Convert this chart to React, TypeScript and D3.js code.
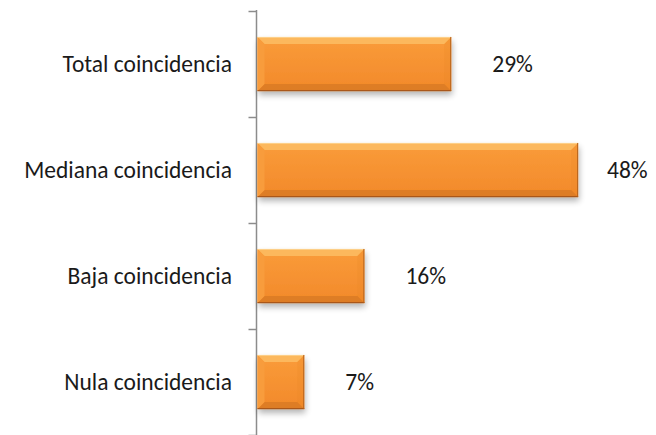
import { useEffect, useRef } from 'react';
import * as d3 from 'd3';

const categories = ['Total coincidencia', 'Mediana coincidencia', 'Baja coincidencia', 'Nula coincidencia'];
const values = [29, 48, 16, 7];
const valueLabels = ['29%', '48%', '16%', '7%'];

const W = 656;
const H = 435;

export default function App() {
  const ref = useRef<SVGSVGElement>(null);

  useEffect(() => {
    const svg = d3.select(ref.current);
    svg.selectAll('*').remove();

    const axisX = 256.5;
    const x = d3.scaleLinear().domain([0, 50]).range([axisX + 1, axisX + 1 + 334]);
    const y = d3.scaleBand().domain(categories).range([11, 435]).paddingInner(0.49).paddingOuter(0.245);
    const yTicks = d3.scaleBand().domain(categories).range([11, 435]);

    const defs = svg.append('defs');
    const grad = defs.append('linearGradient').attr('id', 'barGrad').attr('x1', 0).attr('y1', 0).attr('x2', 0).attr('y2', 1);
    grad.append('stop').attr('offset', '0%').attr('stop-color', '#FA9C3A');
    grad.append('stop').attr('offset', '100%').attr('stop-color', '#F2892A');
    const sh = defs.append('filter').attr('id', 'shadow').attr('x', '-10%').attr('y', '-20%').attr('width', '130%').attr('height', '160%');
    sh.append('feGaussianBlur').attr('in', 'SourceAlpha').attr('stdDeviation', 3).attr('result', 'b');
    sh.append('feOffset').attr('in', 'b').attr('dx', 1).attr('dy', 4).attr('result', 'o');
    sh.append('feComponentTransfer').attr('in', 'o').attr('result', 'o2')
      .append('feFuncA').attr('type', 'linear').attr('slope', 0.3);
    const m = sh.append('feMerge');
    m.append('feMergeNode').attr('in', 'o2');
    m.append('feMergeNode').attr('in', 'SourceGraphic');

    // axis line and ticks
    const axis = svg.append('g').attr('stroke', '#8C8C8C').attr('stroke-width', 1.5);
    axis.append('line').attr('x1', axisX).attr('x2', axisX).attr('y1', 10).attr('y2', 435);
    const bounds = categories.map(c => yTicks(c)!).concat([435]);
    axis.selectAll('line.tick').data(bounds).enter().append('line')
      .attr('class', 'tick')
      .attr('x1', axisX - 8).attr('x2', axisX)
      .attr('y1', d => Math.round(d) + 0.5).attr('y2', d => Math.round(d) + 0.5);

    const bev = 7;
    const bars = svg.append('g').selectAll('g').data(values).enter().append('g')
      .attr('transform', (d, i) => `translate(${x(0)},${y(categories[i])})`);
    const bh = y.bandwidth();

    bars.each(function (d) {
      const g = d3.select(this);
      const w = x(d) - x(0);
      g.append('rect').attr('width', w).attr('height', bh).attr('fill', 'url(#barGrad)').attr('filter', 'url(#shadow)');
      // bevel faces
      g.append('polygon').attr('points', `0,0 ${w},0 ${w - bev},${bev} ${bev},${bev}`).attr('fill', '#FCBB62').attr('opacity', 0.9);
      g.append('polygon').attr('points', `0,${bh} ${w},${bh} ${w - bev},${bh - bev} ${bev},${bh - bev}`).attr('fill', '#D97A24').attr('opacity', 0.85);
      g.append('polygon').attr('points', `0,0 ${bev},${bev} ${bev},${bh - bev} 0,${bh}`).attr('fill', '#F89C3C');
      g.append('polygon').attr('points', `${w},0 ${w - bev},${bev} ${w - bev},${bh - bev} ${w},${bh}`).attr('fill', '#E8842232');
      g.append('line').attr('x1', 0).attr('x2', w).attr('y1', 0.5).attr('y2', 0.5).attr('stroke', '#FDD08A').attr('stroke-width', 1);
      g.append('line').attr('x1', 0).attr('x2', w).attr('y1', bh - 0.5).attr('y2', bh - 0.5).attr('stroke', '#A9571A').attr('stroke-width', 1.2);
      g.append('line').attr('x1', w - 0.5).attr('x2', w - 0.5).attr('y1', 0).attr('y2', bh).attr('stroke', '#B4621D').attr('stroke-width', 1);
    });

    const font = 'Carlito, Calibri, Lato, sans-serif';
    svg.append('g').selectAll('text').data(categories).enter().append('text')
      .attr('x', 232).attr('y', d => y(d)! + bh / 2)
      .attr('text-anchor', 'end').attr('dominant-baseline', 'central')
      .attr('font-family', font).attr('font-size', 23.5).attr('fill', '#1A1A1A')
      .text(d => d);

    svg.append('g').selectAll('text').data(values).enter().append('text')
      .attr('x', d => Math.min(x(d) + 41, 607))
      .attr('y', (d, i) => y(categories[i])! + bh / 2)
      .attr('dominant-baseline', 'central')
      .attr('font-family', font).attr('font-size', 23.5).attr('fill', '#1A1A1A')
      .text((d, i) => valueLabels[i]);
  }, []);

  return (
    <svg ref={ref} width={W} height={H} style={{ position: 'absolute', left: 0, top: 0, background: '#fff' }} />
  );
}
